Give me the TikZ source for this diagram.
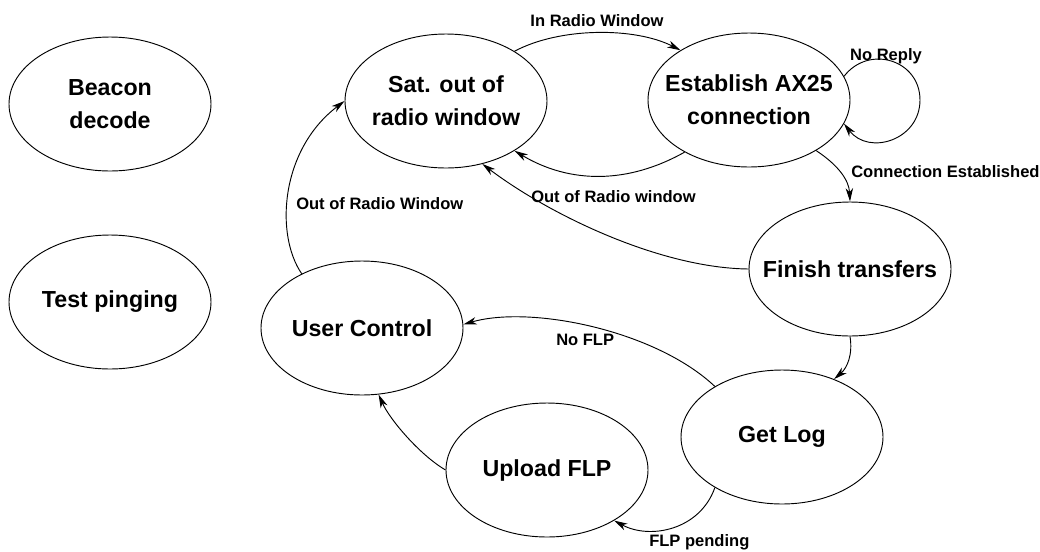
\documentclass[tikz,border=0pt]{standalone}
\usepackage{fontspec}
\setmainfont{Liberation Sans}
\usetikzlibrary{shapes.geometric,arrows.meta}
\begin{document}
\begin{tikzpicture}[x=0.75pt,y=-0.75pt,
 state/.style={ellipse,draw,line width=0.7pt,minimum width=151.5pt,minimum height=100.5pt,inner sep=0pt},
 every label/.style={align=center,font=\fontsize{17.4}{24.75}\selectfont\bfseries},
 edge/.style={line width=0.7pt,-{Stealth[length=10pt,width=5.5pt,inset=3pt]}},
 lab/.style={font=\fontsize{12.4}{14}\selectfont\bfseries,inner sep=0pt}]
\useasboundingbox (0,0) rectangle (1040,551);
% states
\node[state,label={center:Beacon\\decode}] (beacon) at (110,104) {};
\node[state,label={center:Test pinging}] (ping) at (110,302) {};
\node[state,label={center:Sat. out of\\radio window}] (sat) at (446,101) {};
\node[state,label={center:Establish AX25\\connection}] (est) at (749,100) {};
\node[state,label={center:Finish transfers}] (fin) at (850,269) {};
\node[state,label={center:User Control}] (uc) at (362,328) {};
\node[state,label={center:Get Log}] (log) at (782,437) {};
\node[state,label={center:Upload FLP}] (up) at (547,470) {};
% transitions
\coordinate (loopR) at (920,100);
\draw[edge] (sat.36) .. controls (560,27) and (635,27) .. (est.144);
\draw[edge] (est.219) .. controls (628,184) and (570,184) .. (sat.-36);
\draw[edge] (est.14) .. controls (869,44) and (920,60) .. (loopR) .. controls (920,140) and (869,156) .. (est.-14);
\draw[edge] (est.-37) .. controls (838,165) and (849,180) .. (fin.90);
\draw[edge] (fin.180) .. controls (660,268) and (550,215) .. (sat.-60);
\draw[edge] (fin.-90) .. controls (853,355) and (847,368) .. (log.48);
\draw[edge] (log.143) .. controls (655,330) and (530,305) .. (uc.2);
\draw[edge] (log.-143) .. controls (700,530) and (650,540) .. (up.-37);
\draw[edge] (up.180) .. controls (420,455) and (390,420) .. (uc.-76);
\draw[edge] (uc.138) .. controls (275,235) and (280,150) .. (sat.180);
% edge labels
\node[lab,anchor=base] (l1) at (597,26) {In Radio Window};
\node[lab,anchor=base] (l2) at (886,60) {No Reply};
\node[lab,anchor=base west] (l3) at (851,177) {Connection Established};
\node[lab,anchor=base west] (l4) at (531,202) {Out of Radio window};
\node[lab,anchor=base west] (l5) at (296,209) {Out of Radio Window};
\node[lab,anchor=base west] (l6) at (556,345) {No FLP};
\node[lab,anchor=base west] (l7) at (649,546) {FLP pending};
\end{tikzpicture}
\end{document}
